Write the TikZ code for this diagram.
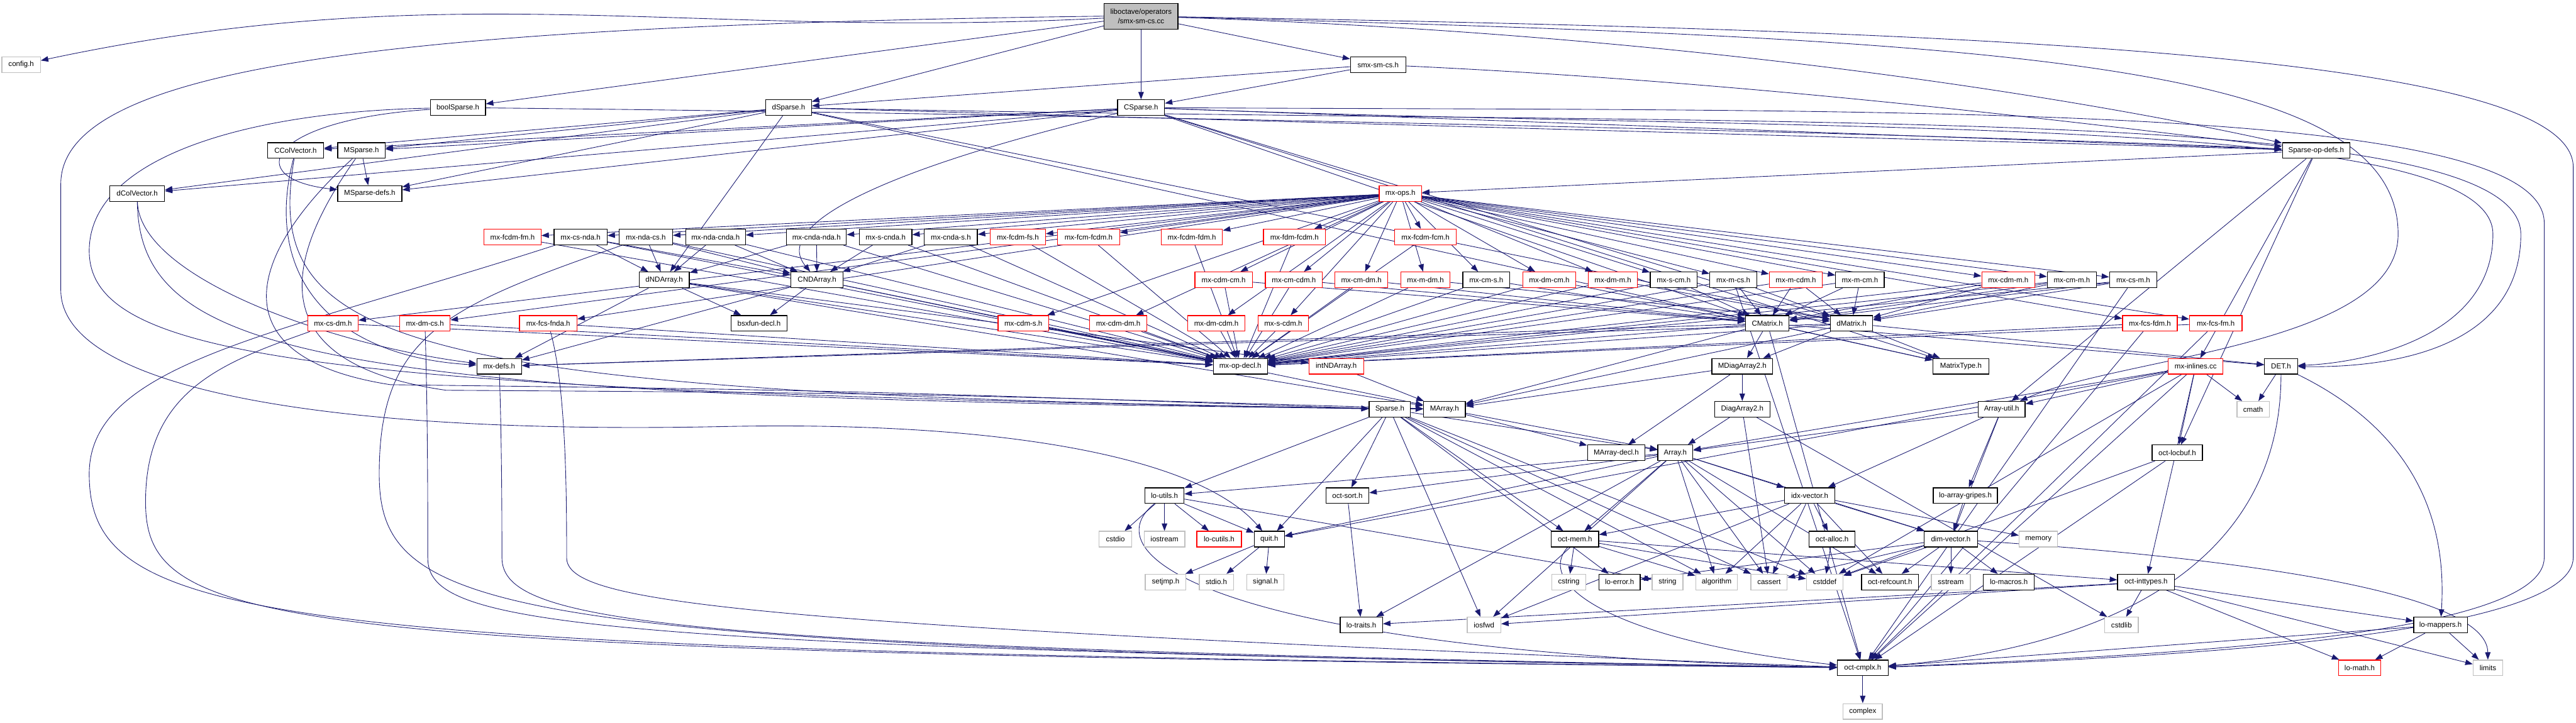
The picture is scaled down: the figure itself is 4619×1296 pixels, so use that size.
\documentclass[tikz,border=0pt]{standalone}
\usepackage{fontspec}
\setmainfont{Liberation Sans}
\usetikzlibrary{arrows.meta,backgrounds}
\definecolor{edgec}{HTML}{191970}
\definecolor{sysc}{HTML}{BFBFBF}
\begin{document}
\begin{tikzpicture}[x=0.01cm,y=-0.01cm,
  every node/.style={font=\fontsize{3.7}{4.6}\selectfont},
  nb/.style={draw=black,line width=0.4pt,fill=white,minimum height=0.28cm,inner sep=0pt},
  nr/.style={nb,draw=red},
  ng/.style={nb,draw=sysc},
  e/.style={draw=edgec,line width=0.28pt,-{Triangle[length=3.8pt,width=2.8pt]}}]
\useasboundingbox (0,0) rectangle (4619,1296);
% row 0-4
\node[nb,fill=sysc,minimum width=1.32cm,minimum height=0.46cm,align=center] (root) at (2046,29) {liboctave/operators\\/smx-sm-cs.cc};
\node[ng,minimum width=0.69cm] (config) at (38,116) {config.h};
\node[nb,minimum width=0.99cm] (smxh) at (2471,116) {smx-sm-cs.h};
\node[nb,minimum width=0.99cm] (boolSparse) at (821,193) {boolSparse.h};
\node[nb,minimum width=0.82cm] (dSparse) at (1414,193) {dSparse.h};
\node[nb,minimum width=0.84cm] (CSparse) at (2046,193) {CSparse.h};
\node[nb,minimum width=1.01cm] (CColVector) at (530,270) {CColVector.h};
\node[nb,minimum width=0.85cm] (MSparse) at (648,270) {MSparse.h};
\node[nb,minimum width=1.21cm] (SparseOpDefs) at (4153,270) {Sparse-op-defs.h};
\node[nb,minimum width=0.98cm] (dColVector) at (246,347) {dColVector.h};
\node[nb,minimum width=1.15cm] (MSparseDefs) at (663,347) {MSparse-defs.h};
\node[nr,minimum width=0.76cm] (mxops) at (2511,347) {mx-ops.h};
% row 5
\node[nr,minimum width=1.02cm] (mxfcdmfm) at (919,425) {mx-fcdm-fm.h};
\node[nb,minimum width=0.95cm] (mxcsnda) at (1041,425) {mx-cs-nda.h};
\node[nb,minimum width=0.96cm] (mxndacs) at (1158,425) {mx-nda-cs.h};
\node[nb,minimum width=1.07cm] (mxndacnda) at (1283,425) {mx-nda-cnda.h};
\node[nb,minimum width=1.07cm] (mxcndanda) at (1464,425) {mx-cnda-nda.h};
\node[nb,minimum width=0.94cm] (mxscnda) at (1588,425) {mx-s-cnda.h};
\node[nb,minimum width=0.95cm] (mxcndas) at (1705,425) {mx-cnda-s.h};
\node[nr,minimum width=0.99cm] (mxfcdmfs) at (1825,425) {mx-fcdm-fs.h};
\node[nr,minimum width=1.11cm] (mxfcmfcdm) at (1952,425) {mx-fcm-fcdm.h};
\node[nr,minimum width=1.10cm] (mxfcdmfdm) at (2137,425) {mx-fcdm-fdm.h};
\node[nr,minimum width=1.11cm] (mxfdmfcdm) at (2321,425) {mx-fdm-fcdm.h};
\node[nr,minimum width=1.11cm] (mxfcdmfcm) at (2556,425) {mx-fcdm-fcm.h};
% row 6
\node[nb,minimum width=0.90cm] (dNDArray) at (1191,502) {dNDArray.h};
\node[nb,minimum width=0.94cm] (CNDArray) at (1465,502) {CNDArray.h};
\node[nr,minimum width=1.03cm] (mxcdmcm) at (2194,502) {mx-cdm-cm.h};
\node[nr,minimum width=1.02cm] (mxcmcdm) at (2320,502) {mx-cm-cdm.h};
\node[nr,minimum width=0.95cm] (mxcmdm) at (2441,502) {mx-cm-dm.h};
\node[nr,minimum width=0.88cm] (mxmdm) at (2556,502) {mx-m-dm.h};
\node[nb,minimum width=0.84cm] (mxcms) at (2665,502) {mx-cm-s.h};
\node[nr,minimum width=0.95cm] (mxdmcm) at (2778,502) {mx-dm-cm.h};
\node[nr,minimum width=0.88cm] (mxdmm) at (2892,502) {mx-dm-m.h};
\node[nb,minimum width=0.84cm] (mxscm) at (3001,502) {mx-s-cm.h};
\node[nb,minimum width=0.84cm] (mxmcs) at (3108,502) {mx-m-cs.h};
\node[nr,minimum width=0.95cm] (mxmcdm) at (3220,502) {mx-m-cdm.h};
\node[nb,minimum width=0.87cm] (mxmcm) at (3335,502) {mx-m-cm.h};
\node[nr,minimum width=0.95cm] (mxcdmm) at (3601,502) {mx-cdm-m.h};
\node[nb,minimum width=0.88cm] (mxcmm) at (3715,502) {mx-cm-m.h};
\node[nb,minimum width=0.85cm] (mxcsm) at (3825,502) {mx-cs-m.h};
% row 7
\node[nr,minimum width=0.90cm] (mxcsdm) at (597,580) {mx-cs-dm.h};
\node[nr,minimum width=0.90cm] (mxdmcs) at (762,580) {mx-dm-cs.h};
\node[nr,minimum width=1.03cm] (mxfcsfnda) at (983,580) {mx-fcs-fnda.h};
\node[nb,minimum width=1.00cm] (bsxfun) at (1361,580) {bsxfun-decl.h};
\node[nr,minimum width=0.91cm] (mxcdms) at (1835,580) {mx-cdm-s.h};
\node[nr,minimum width=1.02cm] (mxcdmdm) at (2005,580) {mx-cdm-dm.h};
\node[nr,minimum width=1.02cm] (mxdmcdm) at (2181,580) {mx-dm-cdm.h};
\node[nr,minimum width=0.90cm] (mxscdm) at (2301,580) {mx-s-cdm.h};
\node[nb,minimum width=0.78cm] (CMatrix) at (3169,580) {CMatrix.h};
\node[nb,minimum width=0.76cm] (dMatrix) at (3320,580) {dMatrix.h};
\node[nr,minimum width=0.98cm] (mxfcsfdm) at (3855,580) {mx-fcs-fdm.h};
\node[nr,minimum width=0.94cm] (mxfcsfm) at (3973,580) {mx-fcs-fm.h};
% row 8
\node[nb,minimum width=0.80cm] (mxdefs) at (895,657) {mx-defs.h};
\node[nb,minimum width=0.97cm] (mxopdecl) at (2224,657) {mx-op-decl.h};
\node[nr,minimum width=0.98cm] (intNDArray) at (2396,657) {intNDArray.h};
\node[nb,minimum width=1.09cm] (MDiagArray2) at (3124,657) {MDiagArray2.h};
\node[nb,minimum width=1.00cm] (MatrixType) at (3516,657) {MatrixType.h};
\node[nr,minimum width=0.98cm] (mxinlines) at (3937,657) {mx-inlines.cc};
\node[nb,minimum width=0.59cm] (DET) at (4090,657) {DET.h};
% row 9
\node[nb,minimum width=0.74cm] (Sparse) at (2492,734) {Sparse.h};
\node[nb,minimum width=0.75cm] (MArray) at (2590,734) {MArray.h};
\node[nb,minimum width=0.99cm] (DiagArray2) at (3124,734) {DiagArray2.h};
\node[nb,minimum width=0.84cm] (ArrayUtil) at (3589,734) {Array-util.h};
\node[ng,minimum width=0.58cm] (cmath) at (4040,734) {cmath};
% row 10
\node[nb,minimum width=1.03cm] (MArrayDecl) at (2898,812) {MArray-decl.h};
\node[nb,minimum width=0.63cm] (Array) at (3004,812) {Array.h};
\node[nb,minimum width=0.90cm] (octlocbuf) at (3904,812) {oct-locbuf.h};
% row 11
\node[nb,minimum width=0.70cm] (loutils) at (2088,889) {lo-utils.h};
\node[nb,minimum width=0.77cm] (octsort) at (2416,889) {oct-sort.h};
\node[nb,minimum width=0.90cm] (idxvector) at (3245,889) {idx-vector.h};
\node[nb,minimum width=1.15cm] (loarraygripes) at (3524,889) {lo-array-gripes.h};
% row 12
\node[ng,minimum width=0.58cm] (cstdio) at (2000,967) {cstdio};
\node[ng,minimum width=0.73cm] (iostream) at (2088,967) {iostream};
\node[nr,minimum width=0.80cm] (locutils) at (2186,967) {lo-cutils.h};
\node[nb,minimum width=0.54cm] (quit) at (2276,967) {quit.h};
\node[nb,minimum width=0.85cm] (octmem) at (2824,967) {oct-mem.h};
\node[nb,minimum width=0.82cm] (octalloc) at (3285,967) {oct-alloc.h};
\node[nb,minimum width=0.95cm] (dimvector) at (3498,967) {dim-vector.h};
\node[ng,minimum width=0.69cm] (memory) at (3655,967) {memory};
% row 13
\node[ng,minimum width=0.73cm] (setjmp) at (2090,1044) {setjmp.h};
\node[ng,minimum width=0.61cm] (stdio) at (2181,1044) {stdio.h};
\node[ng,minimum width=0.67cm] (signal) at (2269,1044) {signal.h};
\node[ng,minimum width=0.61cm] (cstring) at (2813,1044) {cstring};
\node[nb,minimum width=0.74cm] (loerror) at (2904,1044) {lo-error.h};
\node[ng,minimum width=0.55cm] (string) at (2990,1044) {string};
\node[ng,minimum width=0.75cm] (algorithm) at (3078,1044) {algorithm};
\node[ng,minimum width=0.65cm] (cassert) at (3172,1044) {cassert};
\node[ng,minimum width=0.66cm] (cstddef) at (3272,1044) {cstddef};
\node[nb,minimum width=1.02cm] (octrefcount) at (3389,1044) {oct-refcount.h};
\node[ng,minimum width=0.70cm] (sstream) at (3498,1044) {sstream};
\node[nb,minimum width=0.91cm] (lomacros) at (3602,1044) {lo-macros.h};
\node[nb,minimum width=1.02cm] (octinttypes) at (3848,1044) {oct-inttypes.h};
% row 14-16
\node[nb,minimum width=0.76cm] (lotraits) at (2441,1121) {lo-traits.h};
\node[ng,minimum width=0.60cm] (iosfwd) at (2661,1121) {iosfwd};
\node[ng,minimum width=0.60cm] (cstdlib) at (3804,1121) {cstdlib};
\node[nb,minimum width=0.96cm] (lomappers) at (4376,1121) {lo-mappers.h};
\node[nb,minimum width=0.91cm] (octcmplx) at (3340,1198) {oct-cmplx.h};
\node[nr,minimum width=0.76cm] (lomath) at (4231,1198) {lo-math.h};
\node[ng,minimum width=0.53cm] (limits) at (4461,1198) {limits};
\node[ng,minimum width=0.70cm] (complex) at (3340,1276) {complex};

\begin{scope}[on background layer]
% root
\draw[e] (root) to[out=183,in=12] (config);
\draw[e] (root) -- (boolSparse);
\draw[e] (root) -- (dSparse);
\draw[e] (root) -- (CSparse);
\draw[e] (root) -- (smxh);
\draw[e] (root) .. controls (3000,60) and (3700,170) .. (SparseOpDefs);
\draw[e] (root) .. controls (3600,70) and (4300,110) .. (4300,420) .. controls (4300,620) and (3800,640) .. (ArrayUtil);
\draw[e] (root.west) .. controls (700,45) and (109,120) .. (109,330) -- (109,520) .. controls (109,700) and (600,780) .. (1300,765) .. controls (1800,755) and (2150,820) .. (quit);
\draw[e] (root) .. controls (3600,55) and (4614,100) .. (4614,300) -- (4614,1000) .. controls (4614,1140) and (3900,1180) .. (octcmplx);
% smx-sm-cs.h
\draw[e] (smxh) -- (dSparse);
\draw[e] (smxh) -- (CSparse);
\draw[e] (smxh) .. controls (3200,150) and (3800,230) .. (SparseOpDefs);
% boolSparse.h
\draw[e] (boolSparse) .. controls (450,200) and (160,280) .. (160,450) .. controls (160,650) and (600,700) .. (Sparse);
\draw[e] (boolSparse) .. controls (480,215) and (430,320) .. (MSparseDefs);
\draw[e] (boolSparse) .. controls (2000,205) and (3500,240) .. (SparseOpDefs);
% dSparse.h
\foreach \t in {dColVector,CColVector,MSparse,MSparseDefs,dNDArray,dMatrix,MatrixType,SparseOpDefs} \draw[e] (dSparse) -- (\t);
\draw[e] (dSparse) .. controls (3200,230) and (4520,180) .. (4520,420) .. controls (4520,620) and (4300,660) .. (DET);
% CSparse.h
\foreach \t in {dColVector,CColVector,MSparse,MSparseDefs,CMatrix,dMatrix,MatrixType,SparseOpDefs} \draw[e] (CSparse) -- (\t);
\draw[e] (CSparse) .. controls (1600,300) and (1380,400) .. (CNDArray);
\draw[e] (CSparse) .. controls (3300,240) and (4470,200) .. (4470,420) .. controls (4470,600) and (4250,650) .. (DET);
\draw[e] (CSparse) .. controls (3400,200) and (4562,180) .. (4562,400) -- (4562,1000) .. controls (4562,1140) and (3900,1175) .. (octcmplx);
% vectors / MSparse
\draw[e] (MSparse) -- (MSparseDefs);
\draw[e] (MSparse) .. controls (450,450) and (380,640) .. (700,690) .. controls (1500,700) .. (Sparse);
\draw[e] (MSparse) .. controls (520,450) and (450,650) .. (800,700) .. controls (1600,705) .. (MArray);
\draw[e] (CColVector) .. controls (470,500) and (600,640) .. (mxdefs);
\draw[e] (CColVector) .. controls (470,620) and (700,710) .. (MArray);
\draw[e] (dColVector) .. controls (250,500) and (600,620) .. (mxdefs);
\draw[e] (dColVector) .. controls (250,650) and (600,715) .. (MArray);
% Sparse-op-defs.h
\foreach \t in {mxops,ArrayUtil,octlocbuf,mxinlines} \draw[e] (SparseOpDefs) -- (\t);
% mx-ops.h
\foreach \t in {mxfcdmfm,mxcsnda,mxndacs,mxndacnda,mxcndanda,mxscnda,mxcndas,mxfcdmfs,mxfcmfcdm,mxfcdmfdm,mxfdmfcdm,mxfcdmfcm,mxcdmcm,mxcmcdm,mxcmdm,mxmdm,mxcms,mxdmcm,mxdmm,mxscm,mxmcs,mxmcdm,mxmcm,mxcdmm,mxcmm,mxcsm,mxcsdm,mxdmcs,mxfcsfnda,mxcdms,mxcdmdm,mxdmcdm,mxscdm,mxfcsfdm,mxfcsfm} \draw[e] (mxops) -- (\t);
% to mx-op-decl.h
\foreach \s in {mxcsnda,mxndacs,mxndacnda,mxcndanda,mxscnda,mxcndas,mxfcdmfm,mxfcdmfs,mxfcmfcdm,mxfcdmfdm,mxfdmfcdm,mxfcdmfcm,mxcdmcm,mxcmcdm,mxcmdm,mxmdm,mxcms,mxdmcm,mxdmm,mxscm,mxmcs,mxmcdm,mxmcm,mxcdmm,mxcmm,mxcsm,mxcsdm,mxdmcs,mxfcsfnda,mxcdms,mxcdmdm,mxdmcdm,mxscdm,mxfcsfdm,mxfcsfm,dNDArray,CNDArray,CMatrix,dMatrix} \draw[e] (\s) -- (mxopdecl);
% NDArrays
\foreach \s in {mxcsnda,mxndacs,mxndacnda,mxcndanda} \draw[e] (\s) -- (dNDArray);
\foreach \s in {mxcsnda,mxndacs,mxndacnda,mxcndanda,mxscnda,mxcndas} \draw[e] (\s) -- (CNDArray);
% matrices
\foreach \s in {mxcdmcm,mxcmcdm,mxcmdm,mxcms,mxdmcm,mxscm,mxmcs,mxmcdm,mxmcm,mxcdmm,mxcmm,mxcsm} \draw[e] (\s) -- (CMatrix);
\foreach \s in {mxmdm,mxdmm,mxmcs,mxmcdm,mxmcm,mxcdmm,mxcmm,mxcsm} \draw[e] (\s) -- (dMatrix);
% to oct-cmplx.h, routed
\draw[e] (mxcsnda) .. controls (500,600) and (160,650) .. (160,850) .. controls (160,1130) and (500,1165) .. (octcmplx);
\draw[e] (mxndacs) .. controls (800,550) and (680,600) .. (680,850) .. controls (680,1110) and (900,1160) .. (octcmplx);
\draw[e] (mxcsdm) .. controls (400,650) and (261,700) .. (261,900) .. controls (261,1135) and (500,1168) .. (octcmplx);
\draw[e] (mxdmcs) .. controls (767,750) and (767,900) .. (767,1000) .. controls (767,1120) and (1000,1160) .. (octcmplx);
\draw[e] (mxdefs) .. controls (900,800) and (900,950) .. (900,1000) .. controls (900,1120) and (1200,1160) .. (octcmplx);
\draw[e] (mxfcsfnda) .. controls (1016,700) and (1016,900) .. (1016,1000) .. controls (1016,1080) and (1300,1120) .. (octcmplx);
\foreach \s in {mxmcs,mxcsm,mxfcsfdm,mxfcsfm,CMatrix,lomappers,octlocbuf,mxinlines} \draw[e] (\s) -- (octcmplx);
% NDArray includes
\foreach \t in {MArray,intNDArray,mxdefs,bsxfun} \draw[e] (dNDArray) -- (\t);
\foreach \t in {MArray,mxdefs,bsxfun} \draw[e] (CNDArray) -- (\t);
% Matrix includes
\foreach \t in {MArray,MDiagArray2,mxdefs,DET,MatrixType} \draw[e] (CMatrix) -- (\t);
\foreach \t in {MArray,MDiagArray2,mxdefs,DET,MatrixType} \draw[e] (dMatrix) -- (\t);
\draw[e] (intNDArray) -- (MArray);
\foreach \t in {DiagArray2,MArrayDecl,MArray} \draw[e] (MDiagArray2) -- (\t);
\foreach \t in {Array,cassert,cstdlib} \draw[e] (DiagArray2) -- (\t);
\foreach \t in {Array,MArrayDecl} \draw[e] (MArray) -- (\t);
\foreach \t in {Array,octsort,loutils,quit,octmem,iosfwd,cassert,algorithm,cstddef,loerror} \draw[e] (Sparse) -- (\t);
\foreach \t in {Array,dimvector,idxvector,loarraygripes} \draw[e] (ArrayUtil) -- (\t);
\foreach \t in {ArrayUtil,octlocbuf,cmath,quit,octinttypes,Array,cstddef} \draw[e] (mxinlines) -- (\t);
\draw[e] (DET) -- (cmath);
\draw[e] (DET) .. controls (4300,760) and (4390,900) .. (lomappers);
\draw[e] (DET) .. controls (4090,1000) and (3800,1160) .. (octcmplx);
\draw[e] (octlocbuf) -- (cstddef);
\foreach \t in {cassert,cstddef,algorithm,iosfwd,dimvector,idxvector,lotraits,loutils,octsort,quit,octmem,octrefcount} \draw[e] (Array) -- (\t);
\foreach \t in {cstdio,iostream,locutils,quit,string} \draw[e] (loutils) -- (\t);
\draw[e] (loutils) .. controls (1950,1000) and (2200,1170) .. (octcmplx);
\foreach \t in {setjmp,stdio,signal} \draw[e] (quit) -- (\t);
\draw[e] (octsort) -- (lotraits);
\foreach \t in {iosfwd,octmem,algorithm,cassert,octalloc,octrefcount,dimvector,memory} \draw[e] (idxvector) -- (\t);
\draw[e] (loarraygripes) -- (dimvector);
\foreach \t in {cstring,algorithm,cstddef,octinttypes} \draw[e] (octmem) -- (\t);
\draw[e] (octmem) .. controls (2750,1050) and (2900,1150) .. (octcmplx);
\draw[e] (octalloc) -- (cstddef);
\foreach \t in {loerror,cstddef,octrefcount,sstream,lomacros,cassert} \draw[e] (dimvector) -- (\t);
\draw[e] (dimvector) .. controls (4000,1000) and (4460,1060) .. (limits);
\foreach \t in {lotraits,iosfwd,cstdlib,lomath,lomappers,limits} \draw[e] (octinttypes) -- (\t);
\foreach \t in {lomath,limits} \draw[e] (lomappers) -- (\t);
\draw[e] (octcmplx) -- (complex);
\end{scope}
\end{tikzpicture}
\end{document}
